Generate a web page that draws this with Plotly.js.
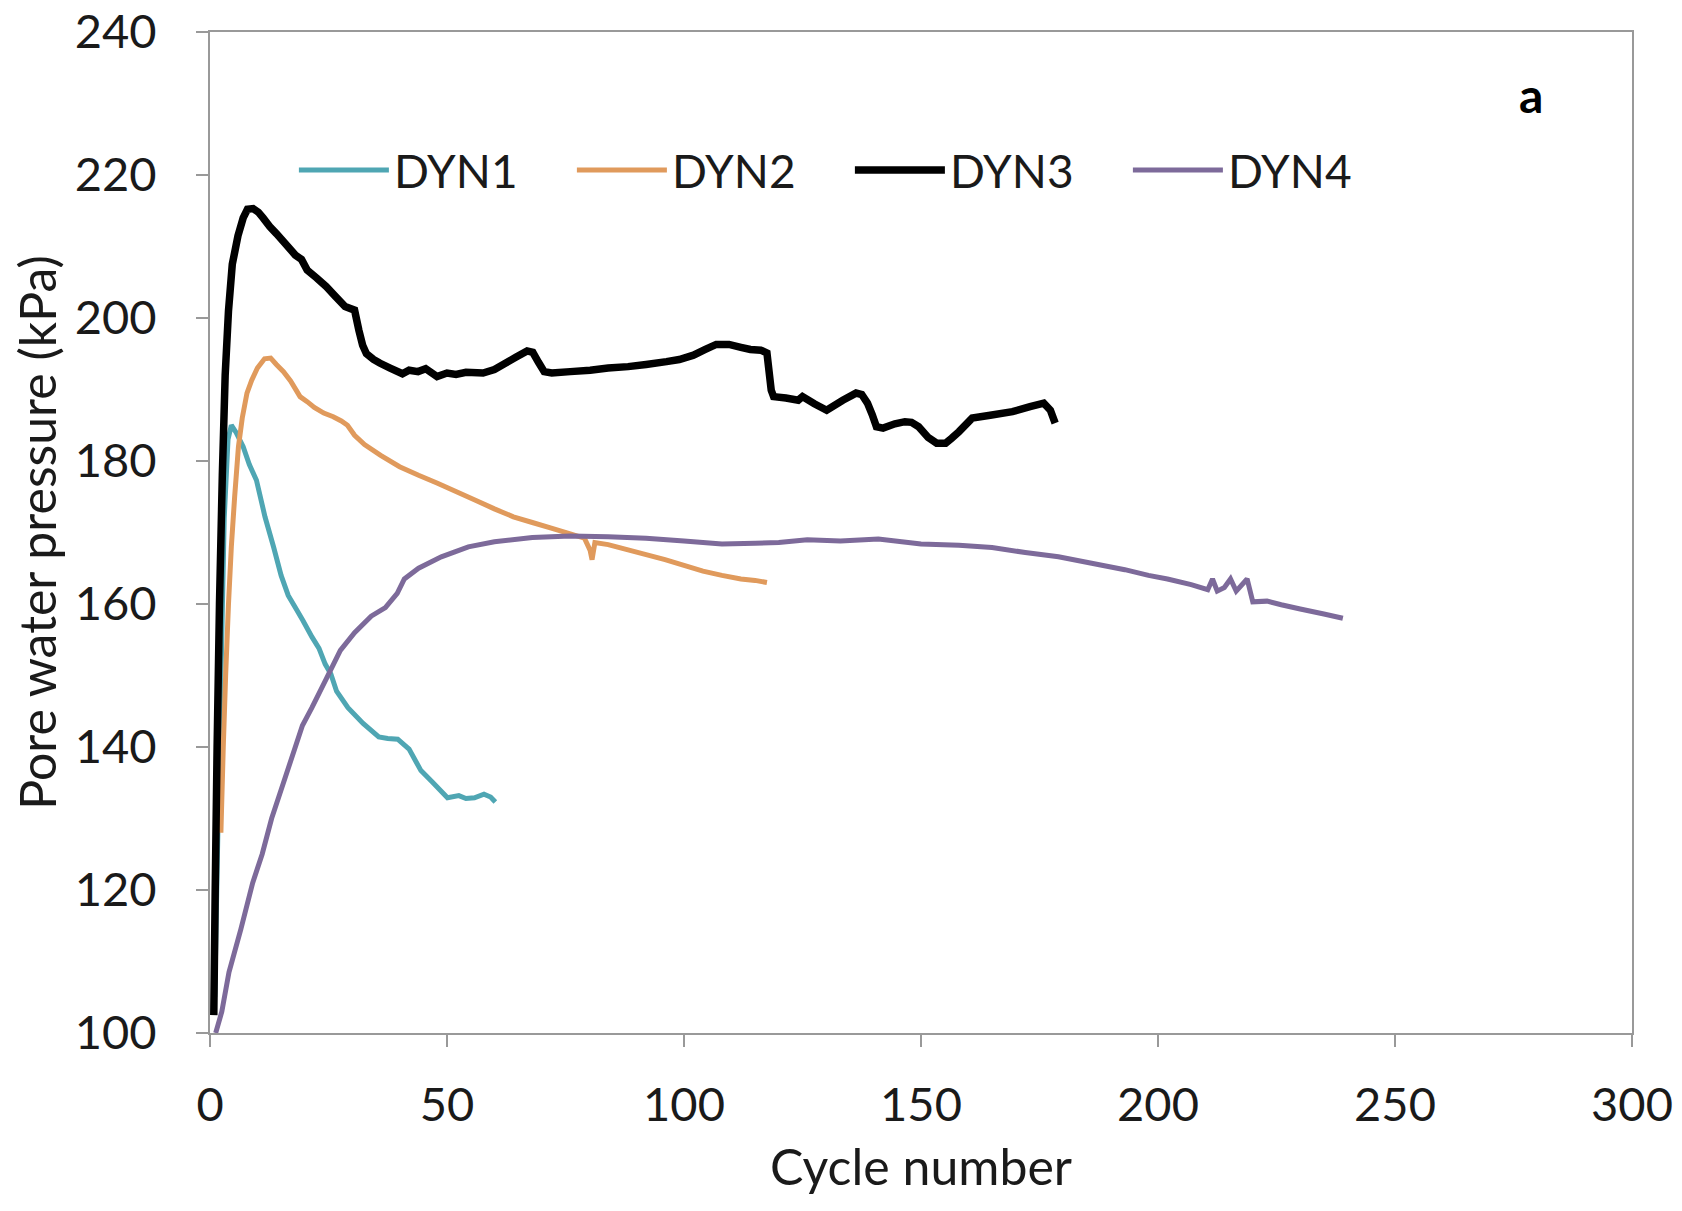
<!DOCTYPE html>
<html>
<head>
<meta charset="utf-8">
<script src="https://cdn.plot.ly/plotly-3.0.1.min.js"></script>
<style>
  html, body { margin: 0; padding: 0; background: #ffffff; }
  #chart { width: 1682px; height: 1211px; }
</style>
</head>
<body>
<div id="chart"></div>
<script>
// Pore water pressure (kPa) against cycle number for four dynamic tests

const seriesNames = ["DYN1", "DYN2", "DYN3", "DYN4"];
const seriesColors = ["#4fa6b3", "#e09a5c", "#000000", "#7d6a9a"];

const dyn1Cycles = [1.0, 2.0, 3.0, 3.8, 4.5, 5.5, 7.0, 8.3, 9.8, 11.6, 13.4, 15.0, 16.5, 18.0, 19.6, 21.5, 23.0, 24.3, 25.5, 26.7, 29.1, 32.3, 35.6, 37.5, 39.6, 42.0, 44.5, 46.9, 50.1, 52.5, 54.0, 55.8, 57.8, 59.2, 60.2];
const dyn1Pressure = [105, 140, 172, 183, 185, 184, 182, 179.5, 177.3, 172.2, 168.0, 164.0, 161.2, 159.5, 157.7, 155.4, 153.8, 151.6, 150.2, 147.8, 145.5, 143.3, 141.4, 141.2, 141.1, 139.7, 136.7, 135.1, 132.9, 133.2, 132.8, 132.9, 133.4, 133.0, 132.3];

const dyn2Cycles = [2.3, 2.8, 3.3, 3.9, 4.5, 5.2, 6.0, 6.8, 7.8, 8.8, 10.0, 11.5, 12.8, 14.0, 15.5, 17.0, 19.0, 20.5, 22.0, 24.0, 26.0, 27.7, 29.0, 30.5, 32.6, 36.0, 40.0, 44.0, 48.0, 52.0, 56.0, 60.0, 64.0, 68.0, 72.0, 76.0, 79.0, 80.2, 80.6, 81.2, 84.0, 88.0, 92.0, 96.0, 100.0, 104.0, 108.0, 112.0, 115.0, 117.5];
const dyn2Pressure = [128, 140, 150, 160, 168, 175, 182, 186, 189.5, 191.3, 193.0, 194.3, 194.4, 193.5, 192.5, 191.2, 189.0, 188.3, 187.5, 186.7, 186.2, 185.6, 185.0, 183.6, 182.3, 180.8, 179.2, 178.0, 176.9, 175.7, 174.5, 173.3, 172.2, 171.4, 170.6, 169.8, 169.2, 167.5, 166.2, 168.6, 168.3, 167.6, 166.9, 166.2, 165.4, 164.6, 164.0, 163.5, 163.3, 163.0];

const dyn3Cycles = [0.8, 1.1, 1.5, 2.0, 2.6, 3.2, 3.9, 4.7, 5.9, 7.0, 7.9, 9.1, 10.2, 11.2, 12.6, 14.0, 16.0, 18.0, 19.3, 20.5, 22.5, 24.5, 26.5, 28.5, 30.5, 31.4, 32.2, 33.0, 34.5, 35.8, 38.0, 40.6, 42.0, 43.9, 45.5, 47.9, 50.0, 51.9, 54.0, 57.6, 60.0, 62.4, 64.5, 66.9, 68.1, 69.3, 70.5, 72.1, 76.0, 80.2, 84.0, 88.2, 92.0, 96.3, 99.0, 102.0, 104.5, 106.8, 109.5, 112.0, 114.0, 116.2, 117.5, 118.4, 118.9, 121.5, 124.1, 125.0, 127.5, 130.1, 133.5, 136.3, 137.5, 138.7, 139.7, 140.6, 142.0, 144.5, 146.6, 148.0, 149.5, 151.5, 153.3, 155.2, 156.5, 158.0, 160.8, 164.6, 169.3, 173.0, 175.9, 177.3, 178.3];
const dyn3Pressure = [102.5, 120, 140, 160, 178, 192, 201, 207.5, 211.5, 214.0, 215.2, 215.3, 214.8, 214.0, 212.8, 211.8, 210.3, 208.8, 208.2, 206.7, 205.6, 204.4, 203.0, 201.6, 201.1, 198.3, 196.2, 195.0, 194.2, 193.7, 193.0, 192.2, 192.7, 192.5, 192.9, 191.8, 192.3, 192.1, 192.4, 192.3, 192.8, 193.7, 194.5, 195.4, 195.2, 193.8, 192.5, 192.3, 192.5, 192.7, 193.0, 193.2, 193.5, 193.9, 194.2, 194.8, 195.6, 196.3, 196.3, 195.9, 195.6, 195.5, 195.1, 189.9, 189.0, 188.8, 188.5, 189.0, 188.0, 187.1, 188.5, 189.5, 189.3, 188.1, 186.5, 184.8, 184.6, 185.2, 185.5, 185.4, 184.8, 183.3, 182.5, 182.5, 183.2, 184.1, 186.0, 186.4, 186.9, 187.6, 188.1, 187.1, 185.3];

const dyn4Cycles = [1.2, 2.5, 4.0, 6.5, 9.0, 11.0, 13.0, 15.5, 18.0, 19.5, 21.5, 24.5, 27.5, 30.5, 34.0, 37.0, 39.5, 41.0, 44.0, 48.8, 54.5, 60.0, 68.0, 76.0, 84.0, 92.0, 100.0, 108.0, 115.0, 120.0, 126.0, 133.0, 141.0, 150.0, 158.0, 165.0, 172.0, 179.0, 186.0, 193.0, 198.0, 202.0, 207.0, 210.5, 211.5, 212.5, 214.0, 215.3, 216.5, 218.8, 220.0, 223.0, 226.0, 230.0, 235.0, 239.0];
const dyn4Pressure = [100, 103, 108.5, 114.5, 121, 125, 130, 135, 140, 143, 145.5, 149.5, 153.5, 156.0, 158.3, 159.5, 161.5, 163.5, 165.0, 166.6, 168.0, 168.7, 169.3, 169.5, 169.4, 169.2, 168.8, 168.4, 168.5, 168.6, 169.0, 168.8, 169.1, 168.4, 168.2, 167.9, 167.2, 166.6, 165.7, 164.8, 164.0, 163.5, 162.7, 162.0, 163.5, 161.8, 162.3, 163.5, 161.8, 163.5, 160.3, 160.4, 159.9, 159.3, 158.6, 158.0];

const xTickValues = [0, 50, 100, 150, 200, 250, 300];
const yTickValues = [100, 120, 140, 160, 180, 200, 220, 240];

const cycles = [dyn1Cycles, dyn2Cycles, dyn3Cycles, dyn4Cycles];
const pressures = [dyn1Pressure, dyn2Pressure, dyn3Pressure, dyn4Pressure];
const lineWidths = [5, 5, 7.5, 5];

const FONT = "Lato, 'Open Sans', sans-serif";
const TEXT_COLOR = "#1a1a1a";

const traces = seriesNames.map((name, i) => ({
  type: "scatter",
  mode: "lines",
  name: name,
  x: cycles[i],
  y: pressures[i],
  line: { color: seriesColors[i], width: lineWidths[i], simplify: false },
  hoverinfo: "x+y+name"
}));

const axisColor = "#999999";

const layout = {
  width: 1682,
  height: 1211,
  margin: { l: 210, r: 50, t: 32, b: 178 },
  paper_bgcolor: "#ffffff",
  plot_bgcolor: "#ffffff",
  font: { family: FONT, color: TEXT_COLOR, size: 46 },
  showlegend: true,
  legend: {
    orientation: "h",
    x: 0.059,
    y: 0.862,
    xanchor: "left",
    yanchor: "middle",
    font: { family: FONT, size: 46, color: TEXT_COLOR },
    itemwidth: 90,
    entrywidth: 173,
    entrywidthmode: "pixels",
    bgcolor: "rgba(255,255,255,0)",
    traceorder: "normal"
  },
  xaxis: {
    range: [0, 300],
    tickvals: xTickValues,
    ticktext: xTickValues.map(String),
    showgrid: false,
    zeroline: false,
    showline: true,
    mirror: true,
    linecolor: axisColor,
    linewidth: 2,
    ticks: "outside",
    ticklen: 12,
    tickwidth: 2,
    tickcolor: axisColor,
    ticklabelstandoff: 18,
    tickfont: { family: FONT, size: 47, color: TEXT_COLOR },
    title: { text: "Cycle number", font: { family: FONT, size: 50, color: TEXT_COLOR }, standoff: 20 }
  },
  yaxis: {
    range: [100, 240],
    tickvals: yTickValues,
    ticktext: yTickValues.map(String),
    showgrid: false,
    zeroline: false,
    showline: true,
    mirror: true,
    linecolor: axisColor,
    linewidth: 2,
    ticks: "outside",
    ticklen: 12,
    tickwidth: 2,
    tickcolor: axisColor,
    ticklabelstandoff: 30,
    tickfont: { family: FONT, size: 47, color: TEXT_COLOR },
    title: { text: "Pore water pressure (kPa)", font: { family: FONT, size: 50, color: TEXT_COLOR }, standoff: 2 }
  },
  annotations: [{
    text: "<b>a</b>",
    xref: "paper",
    yref: "paper",
    x: 0.929,
    y: 0.938,
    xanchor: "center",
    yanchor: "middle",
    showarrow: false,
    font: { family: FONT, size: 48, color: "#000000" }
  }]
};

Plotly.newPlot("chart", traces, layout, { staticPlot: true, displayModeBar: false });
</script>
</body>
</html>
